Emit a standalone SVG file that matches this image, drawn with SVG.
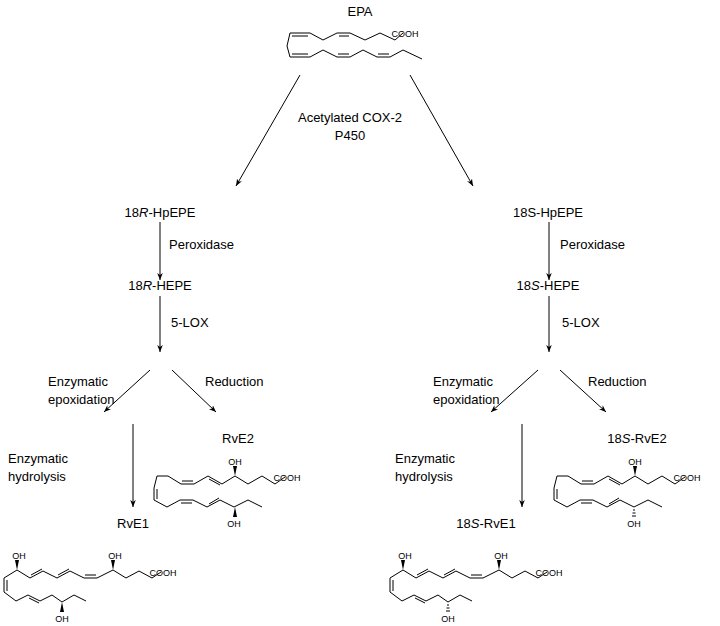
<svg xmlns="http://www.w3.org/2000/svg" width="720" height="626" viewBox="0 0 720 626">
<defs>
<marker id="ah" viewBox="0 0 10 10" refX="10" refY="5" markerWidth="7" markerHeight="7" orient="auto"><path d="M0,1 L10,5 L0,9 L3,5 z" fill="#000"/></marker>
<g id="rve2">
<polyline class="b" points="157,476 168,476 181,484 194,484 208,476 222,484 235,476 248,484 262,476 275,484 285,477"/>
<line class="b" x1="182" y1="481" x2="193" y2="481"/><line class="b" x1="209" y1="479" x2="220" y2="485"/>
<polyline class="b" points="157,476 154,488 154,500 167,507 180,500 193,500 207,507 220,500 234,507 248,500 262,507"/>
<line class="b" x1="157" y1="489" x2="157" y2="499"/><line class="b" x1="181" y1="503" x2="192" y2="503"/><line class="b" x1="209" y1="504" x2="219" y2="498"/>
<polygon points="235,476 233,466 237,466" fill="#000"/>
<text x="235" y="465" class="s">OH</text><text x="287" y="481" class="s" text-anchor="start">COOH</text>
</g>
<g id="rve1">
<polyline class="b" points="17,570 30,578 43,571 57,578 70,571 84,578 97,578 113,570 126,578 139,571 152,578 161,572"/>
<line class="b" x1="31" y1="575" x2="42" y2="569"/><line class="b" x1="58" y1="575" x2="69" y2="569"/><line class="b" x1="85" y1="575" x2="96" y2="575"/>
<polyline class="b" points="17,570 4,578 4,592 16,601 28,595 40,601 52,595 62,602 74,595 86,601"/>
<line class="b" x1="7" y1="580" x2="7" y2="591"/><line class="b" x1="29" y1="598" x2="39" y2="603"/>
<polygon points="17,570 15,560 19,560" fill="#000"/><polygon points="113,570 111,560 115,560" fill="#000"/>
<text x="19" y="559" class="s">OH</text><text x="115" y="559" class="s">OH</text>
<text x="163" y="576" class="s" text-anchor="start">COOH</text>
</g>
</defs>
<style>
.t{font-family:"Liberation Sans",Arial,sans-serif;font-size:13px;fill:#000}
.s{font-family:"Liberation Sans",Arial,sans-serif;font-size:9px;fill:#000;text-anchor:middle}
.b{fill:none;stroke:#000;stroke-width:1}
.c line{stroke:#000;stroke-width:1;marker-end:url(#ah)}
</style>
<rect width="720" height="626" fill="#fff"/>
<g id="epa">
<text x="360" y="16" class="t" text-anchor="middle">EPA</text>
<polyline class="b" points="290,33 310,33 323,40 337,33 350,33 365,40 380,33 395,40 403,33"/>
<line class="b" x1="292" y1="36" x2="308" y2="36"/><line class="b" x1="339" y1="36" x2="349" y2="36"/>
<polyline class="b" points="290,33 287,46 290,57 310,57 323,50 337,57 350,57 363,50 377,57 390,57 403,50 422,59"/>
<line class="b" x1="292" y1="54" x2="308" y2="54"/><line class="b" x1="338" y1="54" x2="349" y2="54"/><line class="b" x1="378" y1="54" x2="389" y2="54"/>
<text x="405" y="37" class="s" text-anchor="start">COOH</text>
</g>
<g id="n-left" class="t">
<text x="160" y="217" text-anchor="middle">18<tspan font-style="italic">R</tspan>-HpEPE</text>
<text x="169" y="249">Peroxidase</text>
<text x="160" y="290" text-anchor="middle">18<tspan font-style="italic">R</tspan>-HEPE</text>
<text x="171" y="327">5-LOX</text>
<text x="48" y="386">Enzymatic</text><text x="48" y="404">epoxidation</text>
<text x="205" y="386">Reduction</text>
<text x="8" y="463">Enzymatic</text><text x="8" y="481">hydrolysis</text>
<text x="238" y="443" text-anchor="middle">RvE2</text>
<text x="133" y="528" text-anchor="middle">RvE1</text>
</g>
<g id="n-right" class="t">
<text x="548" y="217" text-anchor="middle">18S-HpEPE</text>
<text x="560" y="249">Peroxidase</text>
<text x="548" y="290" text-anchor="middle">18<tspan font-style="italic">S</tspan>-HEPE</text>
<text x="562" y="327">5-LOX</text>
<text x="433" y="386">Enzymatic</text><text x="433" y="404">epoxidation</text>
<text x="588" y="386">Reduction</text>
<text x="395" y="463">Enzymatic</text><text x="395" y="481">hydrolysis</text>
<text x="637" y="443" text-anchor="middle">18<tspan font-style="italic">S</tspan>-RvE2</text>
<text x="486" y="528" text-anchor="middle">18<tspan font-style="italic">S</tspan>-RvE1</text>
</g>
<g id="label-cox" class="t" text-anchor="middle">
<text x="350" y="122">Acetylated COX-2</text><text x="350" y="140">P450</text>
</g>
<g id="mol-rve2"><use href="#rve2"/></g>
<g id="mol-rve1"><use href="#rve1"/></g>
<g id="mol-18s-rve2">
<g transform="translate(400,0)">
<polyline class="b" points="157,476 168,476 181,484 194,484 208,476 222,484 235,476 248,484 262,476 275,484 285,477"/>
<line class="b" x1="182" y1="481" x2="193" y2="481"/><line class="b" x1="209" y1="479" x2="220" y2="485"/>
<polyline class="b" points="157,476 154,488 154,500 167,507 180,500 193,500 207,507 220,500 234,507 248,500 262,507"/>
<line class="b" x1="157" y1="489" x2="157" y2="499"/><line class="b" x1="181" y1="503" x2="192" y2="503"/><line class="b" x1="209" y1="504" x2="219" y2="498"/>
<polygon points="235,476 233,466 237,466" fill="#000"/>
<path d="M233,510h2M232.5,513h3M232,516h4" stroke="#000" stroke-width="1"/>
<text x="235" y="465" class="s">OH</text><text x="234" y="527" class="s">OH</text><text x="287" y="481" class="s" text-anchor="start">COOH</text>
</g>
</g>
<g id="mol-18s-rve1">
<g transform="translate(386,0)">
<polyline class="b" points="17,570 30,578 43,571 57,578 70,571 84,578 97,578 113,570 126,578 139,571 152,578 161,572"/>
<line class="b" x1="31" y1="575" x2="42" y2="569"/><line class="b" x1="58" y1="575" x2="69" y2="569"/><line class="b" x1="85" y1="575" x2="96" y2="575"/>
<polyline class="b" points="17,570 4,578 4,592 16,601 28,595 40,601 52,595 62,602 74,595 86,601"/>
<line class="b" x1="7" y1="580" x2="7" y2="591"/><line class="b" x1="29" y1="598" x2="39" y2="603"/>
<polygon points="17,570 15,560 19,560" fill="#000"/><polygon points="113,570 111,560 115,560" fill="#000"/>
<path d="M61,605h2M60.5,608h3M60,611h4" stroke="#000" stroke-width="1"/>
<text x="19" y="559" class="s">OH</text><text x="115" y="559" class="s">OH</text><text x="62" y="622" class="s">OH</text>
<text x="163" y="576" class="s" text-anchor="start">COOH</text>
</g>
</g>
<g id="wedge-rve">
<polygon points="235,507 233,517 237,517" fill="#000"/><text x="234" y="527" class="s">OH</text>
<polygon points="62,602 60,612 64,612" fill="#000"/><text x="62" y="622" class="s">OH</text>
</g>
<g id="connectors" class="c">
<line x1="300" y1="75" x2="236" y2="186"/>
<line x1="410" y1="75" x2="473" y2="186"/>
<line x1="160" y1="222" x2="160" y2="280"/>
<line x1="160" y1="296" x2="160" y2="352"/>
<line x1="549" y1="222" x2="549" y2="280"/>
<line x1="549" y1="296" x2="549" y2="352"/>
<line x1="150" y1="370" x2="104" y2="412"/>
<line x1="172" y1="370" x2="216" y2="412"/>
<line x1="538" y1="370" x2="491" y2="412"/>
<line x1="560" y1="370" x2="606" y2="412"/>
<line x1="133" y1="424" x2="133" y2="507"/>
<line x1="522" y1="424" x2="522" y2="507"/>
</g>
</svg>
